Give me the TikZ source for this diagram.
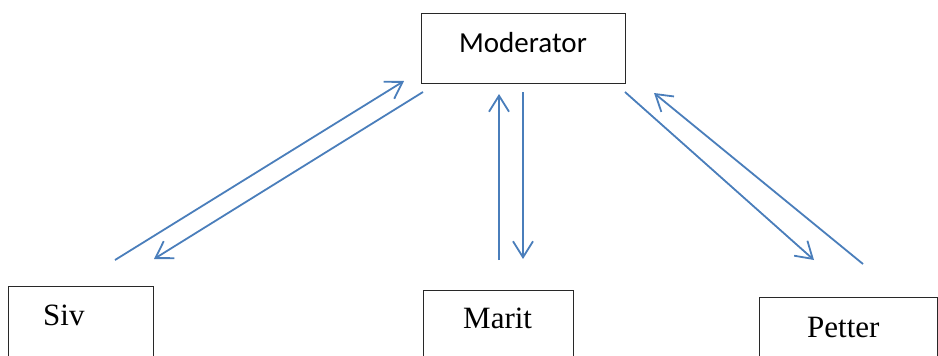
\documentclass[tikz,border=0pt]{standalone}
\usepackage{fontspec}
\setmainfont{Liberation Serif}
\newfontfamily\labelsans{Carlito}
\usetikzlibrary{arrows.meta}
\definecolor{flowblue}{RGB}{74,126,187}
\definecolor{boxline}{RGB}{40,40,40}
\tikzset{
  boxnode/.style={draw=boxline, line width=1.3pt, rectangle, inner sep=0pt, anchor=north west},
  sanslabel/.style={inner sep=0pt, anchor=base, font=\labelsans\fontsize{29}{34}\selectfont},
  seriflabel/.style={inner sep=0pt, anchor=base west, font=\fontsize{31}{36}\selectfont},
  flow/.style={draw=flowblue, line width=1.8pt,
    -{Straight Barb[length=16pt,width=20pt,line width=1.8pt]}},
}
\begin{document}
\begin{tikzpicture}[x=1pt,y=-1pt]
  \useasboundingbox (0,0) rectangle (938,356);
  \clip (0,0) rectangle (938,356);

  % boxes
  \node[boxnode, minimum width=204pt, minimum height=70pt] (mod) at (421,13) {};
  \node[boxnode, minimum width=145pt, minimum height=100pt] (siv) at (8,286) {};
  \node[boxnode, minimum width=150pt, minimum height=100pt] (marit) at (423,290) {};
  \node[boxnode, minimum width=178pt, minimum height=100pt] (petter) at (759,297) {};

  % labels
  \node[sanslabel] (modtext) at (523,52) {Moderator};
  \node[seriflabel] (sivtext) at (43,325) {Siv};
  \node[seriflabel] (marittext) at (463,328) {Marit};
  \node[seriflabel] (pettertext) at (807,337) {Petter};

  % arrow end points
  \coordinate (s1a) at (115,260);
  \coordinate (s1b) at (404,81);
  \coordinate (s2a) at (423,92);
  \coordinate (s2b) at (154,259);
  \coordinate (m1a) at (499,260);
  \coordinate (m1b) at (499,94);
  \coordinate (m2a) at (523,92);
  \coordinate (m2b) at (523,259);
  \coordinate (p1a) at (625,92);
  \coordinate (p1b) at (814,260);
  \coordinate (p2a) at (863,264);
  \coordinate (p2b) at (654,93);

  % message flows
  \draw[flow] (s1a) -- (s1b);
  \draw[flow] (s2a) -- (s2b);
  \draw[flow] (m1a) -- (m1b);
  \draw[flow] (m2a) -- (m2b);
  \draw[flow] (p1a) -- (p1b);
  \draw[flow] (p2a) -- (p2b);
\end{tikzpicture}
\end{document}
